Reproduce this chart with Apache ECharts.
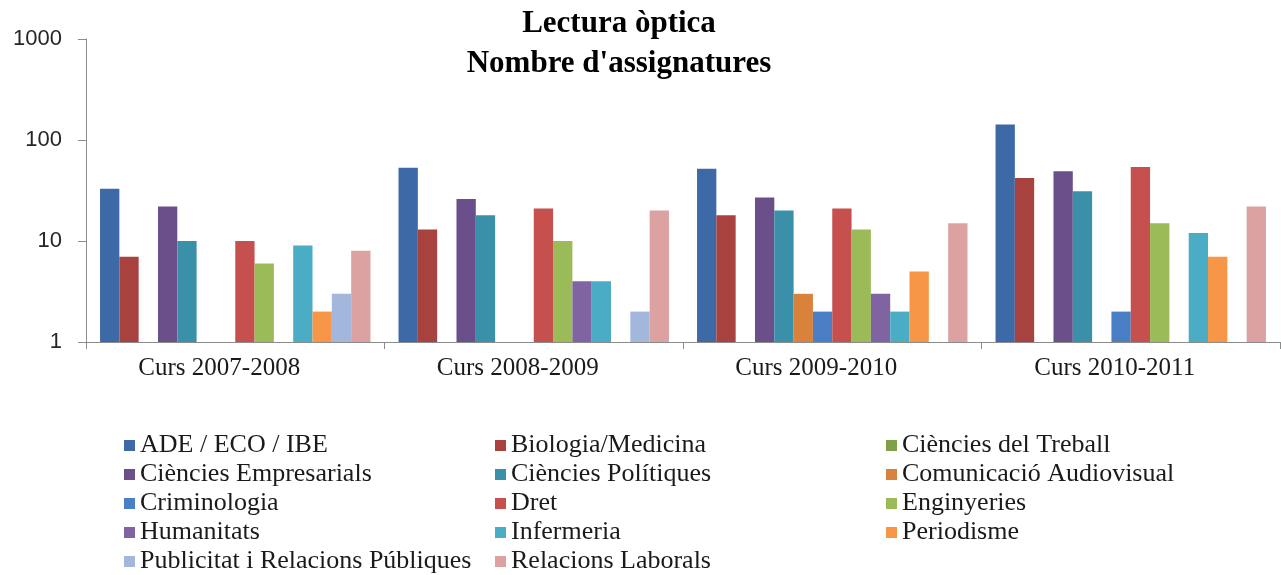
<!DOCTYPE html>
<html>
<head>
<meta charset="utf-8">
<script src="https://cdn.jsdelivr.net/npm/echarts@6/dist/echarts.min.js"></script>
<style>
  html, body { margin: 0; padding: 0; background: #fff; }
  #chart { width: 1281px; height: 575px; }
</style>
</head>
<body>
<div id="chart"></div>
<script>
    var cursos = ['Curs 2007-2008', 'Curs 2008-2009', 'Curs 2009-2010', 'Curs 2010-2011'];

    // valors per estudi (null = sense barra)
    var ade = [33, 53, 52, 142];
    var biologia = [7, 13, 18, 42];
    var treball = [null, null, null, null];
    var empresarials = [22, 26, 27, 49];
    var politiques = [10, 18, 20, 31];
    var comunicacio = [null, null, 3, null];
    var criminologia = [null, null, 2, 2];
    var dret = [10, 21, 21, 54];
    var enginyeries = [6, 10, 13, 15];
    var humanitats = [null, 4, 3, null];
    var infermeria = [9, 4, 2, 12];
    var periodisme = [2, null, 5, 7];
    var publicitat = [3, 2, null, null];
    var laborals = [8, 20, 15, 22];

    var yTicks = [1, 10, 100, 1000];

    var series_ = [
        {name: 'ADE / ECO / IBE', data: ade, color: '#3D6AA7'},
        {name: 'Biologia/Medicina', data: biologia, color: '#A8423F'},
        {name: 'Ciències del Treball', data: treball, color: '#7F9F48'},
        {name: 'Ciències Empresarials', data: empresarials, color: '#6A4F8A'},
        {name: 'Ciències Polítiques', data: politiques, color: '#3A90A8'},
        {name: 'Comunicació Audiovisual', data: comunicacio, color: '#D9823B'},
        {name: 'Criminologia', data: criminologia, color: '#4A7FC5'},
        {name: 'Dret', data: dret, color: '#C6504D'},
        {name: 'Enginyeries', data: enginyeries, color: '#9BBB59'},
        {name: 'Humanitats', data: humanitats, color: '#8064A2'},
        {name: 'Infermeria', data: infermeria, color: '#4BACC6'},
        {name: 'Periodisme', data: periodisme, color: '#F79646'},
        {name: 'Publicitat i Relacions Públiques', data: publicitat, color: '#A3B7DD'},
        {name: 'Relacions Laborals', data: laborals, color: '#DCA2A1'}
    ];

    var legendFont = {fontFamily: 'Liberation Serif', fontSize: 26, color: '#1a1a1a', lineHeight: 27};

    function legendCol(names, left) {
        return {
            orient: 'vertical',
            left: left,
            top: 432,
            height: 200,
            padding: 0,
            itemWidth: 11,
            itemHeight: 11,
            itemGap: 2,
            icon: 'rect',
            selectedMode: false,
            textStyle: legendFont,
            data: names
        };
    }

    var myChart = echarts.init(document.getElementById('chart'));
    var option = {
        animation: false,
        title: {
            text: "Lectura òptica\nNombre d'assignatures",
            left: 619,
            top: 4,
            padding: 0,
            textAlign: 'center',
            textStyle: {fontFamily: 'Liberation Serif', fontWeight: 'bold', fontSize: 31, lineHeight: 40, color: '#000'}
        },
        legend: [
            legendCol([series_[0].name, series_[3].name, series_[6].name, series_[9].name, series_[12].name], 124),
            legendCol([series_[1].name, series_[4].name, series_[7].name, series_[10].name, series_[13].name], 495),
            legendCol([series_[2].name, series_[5].name, series_[8].name, series_[11].name], 886)
        ],
        grid: {left: 86, right: 1, top: 39, bottom: 233, containLabel: false},
        xAxis: {
            type: 'category',
            data: cursos,
            axisLine: {lineStyle: {color: '#8c8c8c', width: 1}},
            axisTick: {show: true, length: 7, lineStyle: {color: '#8c8c8c'}},
            axisLabel: {fontFamily: 'Liberation Serif', fontSize: 25, color: '#1a1a1a', margin: 14, padding: [0, 32, 0, 0]}
        },
        yAxis: {
            type: 'log',
            logBase: 10,
            min: yTicks[0],
            max: yTicks[yTicks.length - 1],
            axisLine: {show: true, lineStyle: {color: '#8c8c8c', width: 1}},
            axisTick: {show: true, inside: false, length: 8, lineStyle: {color: '#8c8c8c'}},
            splitLine: {show: false},
            axisLabel: {
                fontFamily: 'Liberation Sans', fontSize: 22, color: '#262626', margin: 24,
                formatter: function (v) { return String(Math.round(v)); }
            }
        },
        series: series_.map(function (s) {
            return {
                name: s.name,
                type: 'bar',
                data: s.data,
                barGap: '0%',
                barCategoryGap: '9.4%',
                itemStyle: {color: s.color}
            };
        })
    };
    myChart.setOption(option);
</script>
</body>
</html>
